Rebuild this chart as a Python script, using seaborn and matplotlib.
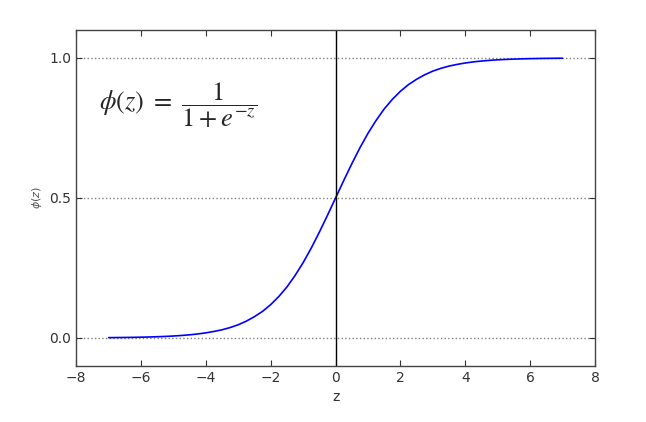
import matplotlib
matplotlib.use("Agg")
import matplotlib.pyplot as plt
import seaborn as sns
import pandas as pd

# values
z_vals = [-7.0, -6.75, -6.5, -6.25, -6.0, -5.75, -5.5, -5.25, -5.0, -4.75, -4.5, -4.25,
          -4.0, -3.75, -3.5, -3.25, -3.0, -2.75, -2.5, -2.25, -2.0, -1.75, -1.5, -1.25,
          -1.0, -0.75, -0.5, -0.25, 0.0, 0.25, 0.5, 0.75, 1.0, 1.25, 1.5, 1.75,
          2.0, 2.25, 2.5, 2.75, 3.0, 3.25, 3.5, 3.75, 4.0, 4.25, 4.5, 4.75,
          5.0, 5.25, 5.5, 5.75, 6.0, 6.25, 6.5, 6.75, 7.0]
phi_vals = [0.0009, 0.0012, 0.0015, 0.0019, 0.0025, 0.0032, 0.0041, 0.0052, 0.0067, 0.0086,
            0.011, 0.014, 0.018, 0.023, 0.029, 0.037, 0.047, 0.060, 0.076, 0.095,
            0.119, 0.148, 0.182, 0.223, 0.269, 0.321, 0.378, 0.438, 0.5, 0.562,
            0.622, 0.679, 0.731, 0.777, 0.818, 0.852, 0.881, 0.905, 0.924, 0.940,
            0.953, 0.963, 0.971, 0.977, 0.982, 0.986, 0.989, 0.9914, 0.9933, 0.9948,
            0.9959, 0.9968, 0.9975, 0.9981, 0.9985, 0.9988, 0.9991]
y_ticks = [0.0, 0.5, 1.0]

df = pd.DataFrame({"z": z_vals, "phi": phi_vals})

sns.set_style("ticks", {"xtick.direction": "in", "ytick.direction": "in"})
plt.rcParams["font.family"] = ["DejaVu Sans"]

fig = plt.figure(figsize=(6.46, 4.22), dpi=100)
ax = fig.add_axes([0.118, 0.133, 0.803, 0.796])

sns.lineplot(data=df, x="z", y="phi", color="blue", linewidth=1.2, ax=ax)
ax.axvline(0.0, color="black", linewidth=1.0)

ax.set_xlim(-8, 8)
ax.set_ylim(-0.1, 1.1)
ax.set_yticks(y_ticks)
ax.set_xticks(range(-8, 9, 2))
for y in y_ticks:
    ax.axhline(y, ls=":", color="gray", linewidth=1.0, zorder=0)

ax.tick_params(top=True, right=True, direction="in", length=4, width=0.8,
               labelsize=10, colors="#333333")
for s in ax.spines.values():
    s.set_color("#444444")
    s.set_linewidth(1.0)

ax.set_xlabel("z", fontsize=10, color="#333333")
ax.set_ylabel(r"$\phi (z)$", fontsize=8, color="#555555")

ax.text(-7.3, 0.83, r"$\phi (z)\ =\ \dfrac{1}{1 + e^{-z}}$", fontsize=19,
        math_fontfamily="stix", va="center", ha="left")

fig.savefig("out.png", dpi=100)
